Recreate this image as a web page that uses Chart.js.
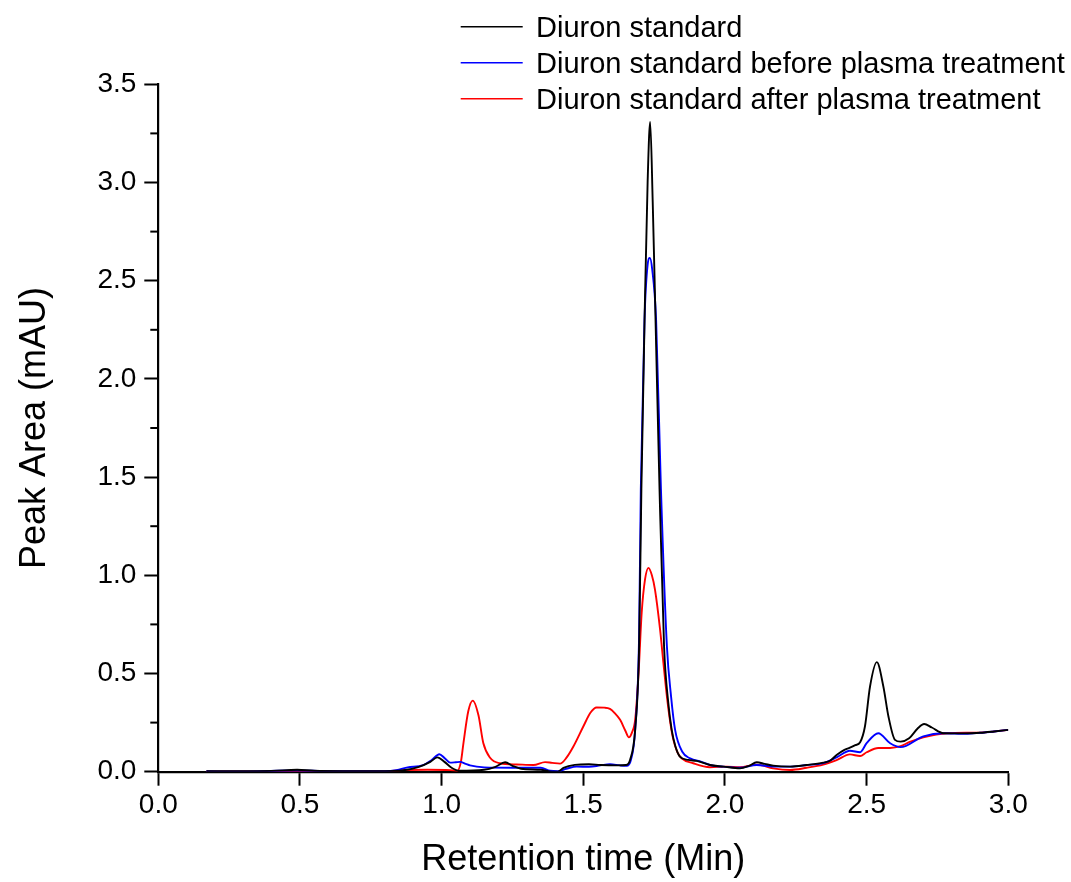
<!DOCTYPE html>
<html>
<head>
<meta charset="utf-8">
<script src="https://cdn.jsdelivr.net/npm/chart.js@4.4.0/dist/chart.umd.min.js"></script>
<style>
  html, body { margin: 0; padding: 0; background: #fff; }
  #wrap { width: 1071px; height: 882px; }
</style>
</head>
<body>
<div id="wrap"><canvas id="c" width="1071" height="882"></canvas></div>
<script>
// ---- Data ----
const seriesLabels = [
  'Diuron standard',
  'Diuron standard before plasma treatment',
  'Diuron standard after plasma treatment'
];
const seriesColors = ['#000000', '#0000ff', '#ff0000'];

const xTicks = [0.0, 0.5, 1.0, 1.5, 2.0, 2.5, 3.0];
const yTicks = [0.0, 0.5, 1.0, 1.5, 2.0, 2.5, 3.0, 3.5];

const stdTime = [0.17,0.3,0.4,0.49,0.55,0.65,0.8,0.86,0.92,0.96,0.985,1.01,1.035,1.06,1.15,1.19,1.224,1.25,1.28,1.35,1.39,1.41,1.43,1.47,1.52,1.56,1.62,1.65,1.665,1.683,1.697,1.705,1.717,1.727,1.736,1.745,1.754,1.769,1.785,1.8,1.812,1.825,1.841,1.87,1.9,1.947,1.995,2.053,2.085,2.112,2.14,2.17,2.23,2.288,2.347,2.371,2.394,2.42,2.441,2.46,2.477,2.494,2.512,2.536,2.559,2.577,2.6,2.62,2.65,2.68,2.703,2.73,2.771,2.85,2.9,2.95,3.0];
const stdSignal = [0.002,0.002,0.004,0.01,0.005,0.003,0.003,0.006,0.025,0.05,0.073,0.05,0.02,0.005,0.01,0.025,0.048,0.03,0.015,0.01,0.0,0.0,0.02,0.035,0.038,0.034,0.032,0.034,0.06,0.213,0.64,1.44,2.36,3.0,3.308,2.9,2.36,1.44,0.64,0.35,0.213,0.13,0.077,0.06,0.055,0.034,0.026,0.017,0.03,0.048,0.04,0.031,0.026,0.034,0.046,0.056,0.085,0.11,0.122,0.135,0.15,0.23,0.434,0.558,0.434,0.281,0.162,0.153,0.17,0.22,0.243,0.225,0.196,0.195,0.198,0.205,0.213];

const beforeTime = [0.17,0.3,0.49,0.6,0.8,0.84,0.88,0.935,0.965,0.992,1.01,1.03,1.05,1.065,1.085,1.1,1.15,1.25,1.35,1.383,1.41,1.44,1.477,1.52,1.56,1.594,1.63,1.653,1.668,1.683,1.697,1.703,1.716,1.727,1.735,1.743,1.757,1.774,1.795,1.81,1.824,1.85,1.877,1.917,1.947,1.965,1.995,2.053,2.112,2.17,2.23,2.288,2.347,2.394,2.441,2.477,2.5,2.541,2.583,2.62,2.7,2.771,2.85,2.9,2.95,3.0];
const beforeSignal = [0.002,0.001,0.006,0.003,0.003,0.008,0.022,0.034,0.06,0.089,0.07,0.046,0.048,0.05,0.04,0.032,0.022,0.02,0.02,0.005,0.003,0.015,0.026,0.025,0.032,0.038,0.032,0.03,0.06,0.213,0.7,1.44,2.3,2.58,2.616,2.56,2.3,1.44,0.64,0.38,0.213,0.1,0.068,0.05,0.034,0.029,0.026,0.02,0.034,0.026,0.026,0.034,0.044,0.073,0.107,0.099,0.145,0.196,0.145,0.125,0.18,0.196,0.193,0.198,0.205,0.213];

const afterTime = [0.17,0.5,0.8,0.86,0.95,1.03,1.055,1.068,1.077,1.094,1.11,1.13,1.147,1.171,1.206,1.265,1.324,1.365,1.39,1.418,1.44,1.465,1.5,1.525,1.547,1.575,1.594,1.61,1.63,1.648,1.661,1.672,1.683,1.695,1.706,1.718,1.73,1.742,1.753,1.771,1.783,1.795,1.807,1.818,1.832,1.847,1.888,1.947,2.006,2.053,2.112,2.17,2.23,2.288,2.347,2.394,2.441,2.477,2.5,2.541,2.583,2.62,2.65,2.7,2.783,2.9,3.0];
const afterSignal = [0.001,0.003,0.003,0.008,0.01,0.008,0.005,0.05,0.146,0.308,0.362,0.287,0.146,0.071,0.043,0.037,0.034,0.049,0.045,0.041,0.07,0.128,0.23,0.3,0.327,0.326,0.32,0.3,0.264,0.21,0.175,0.2,0.264,0.5,0.808,0.98,1.038,1.0,0.927,0.723,0.55,0.383,0.25,0.162,0.1,0.068,0.043,0.023,0.026,0.023,0.036,0.017,0.009,0.02,0.036,0.059,0.088,0.08,0.099,0.121,0.121,0.13,0.15,0.175,0.196,0.199,0.213];

// ---- Build datasets ----
function pts(xs, ys) { return xs.map((x, i) => ({ x: x, y: ys[i] })); }
const seriesData = [pts(stdTime, stdSignal), pts(beforeTime, beforeSignal), pts(afterTime, afterSignal)];

const FONT = "'Liberation Sans', Arial, Helvetica, sans-serif";

// Minor ticks on y axis (every 0.25) drawn from the y scale
const minorTicks = {
  id: 'minorTicks',
  afterDraw(chart) {
    const ys = chart.scales.y;
    const ctx = chart.ctx;
    ctx.save();
    ctx.strokeStyle = '#000';
    ctx.lineWidth = 2;
    for (let i = 0; i < yTicks.length - 1; i++) {
      const v = (yTicks[i] + yTicks[i + 1]) / 2;
      const p = ys.getPixelForValue(v);
      ctx.beginPath();
      ctx.moveTo(ys.right - 8, p);
      ctx.lineTo(ys.right, p);
      ctx.stroke();
    }
    ctx.restore();
  }
};

// Legend drawn at the top (Origin-style)
const topLegend = {
  id: 'topLegend',
  afterDraw(chart) {
    const ctx = chart.ctx;
    ctx.save();
    ctx.font = '29px ' + FONT;
    ctx.textBaseline = 'alphabetic';
    ctx.fillStyle = '#000';
    chart.data.datasets.forEach((ds, i) => {
      const yy = 26.7 + i * 36;
      ctx.strokeStyle = ds.borderColor;
      ctx.lineWidth = 1.5;
      ctx.beginPath();
      ctx.moveTo(460.7, yy);
      ctx.lineTo(522.7, yy);
      ctx.stroke();
      ctx.fillText(ds.label, 536, yy + 10.6);
    });
    ctx.restore();
  }
};

new Chart(document.getElementById('c'), {
  type: 'line',
  data: {
    datasets: seriesLabels.map((lab, i) => ({
      label: lab,
      data: seriesData[i],
      borderColor: seriesColors[i],
      backgroundColor: seriesColors[i],
      borderWidth: 1.9,
      pointRadius: 0,
      fill: false,
      cubicInterpolationMode: 'monotone'
    }))
  },
  options: {
    responsive: false,
    animation: false,
    devicePixelRatio: 1,
    layout: { padding: { left: 0, top: 84.3, right: 62.7, bottom: 0 } },
    plugins: { legend: { display: false }, tooltip: { enabled: false } },
    scales: {
      x: {
        type: 'linear',
        min: 0, max: 3,
        afterBuildTicks(s) { s.ticks = xTicks.map(v => ({ value: v })); },
        afterFit(s) { s.height = 110.3; },
        ticks: {
          color: '#000',
          font: { family: FONT, size: 28 },
          padding: 3,
          maxRotation: 0,
          callback: v => Number(v).toFixed(1)
        },
        grid: { drawOnChartArea: false, drawTicks: true, tickLength: 14, tickColor: '#000', tickWidth: 2 },
        border: { display: true, color: '#000', width: 2.2 },
        title: { display: true, text: 'Retention time (Min)', color: '#000', font: { family: FONT, size: 36 }, padding: { top: 1, bottom: 0 } }
      },
      y: {
        type: 'linear',
        min: 0, max: 3.5,
        afterBuildTicks(s) { s.ticks = yTicks.map(v => ({ value: v })); },
        afterFit(s) { s.width = 158.3; },
        ticks: {
          color: '#000',
          font: { family: FONT, size: 28 },
          padding: 8,
          callback: v => Number(v).toFixed(1)
        },
        grid: { drawOnChartArea: false, drawTicks: true, tickLength: 14, tickColor: '#000', tickWidth: 2 },
        border: { display: true, color: '#000', width: 2.2 },
        title: { display: true, text: 'Peak Area (mAU)', color: '#000', font: { family: FONT, size: 36 }, padding: { top: 13, bottom: 0 } }
      }
    }
  },
  plugins: [minorTicks, topLegend]
});
</script>
</body>
</html>
